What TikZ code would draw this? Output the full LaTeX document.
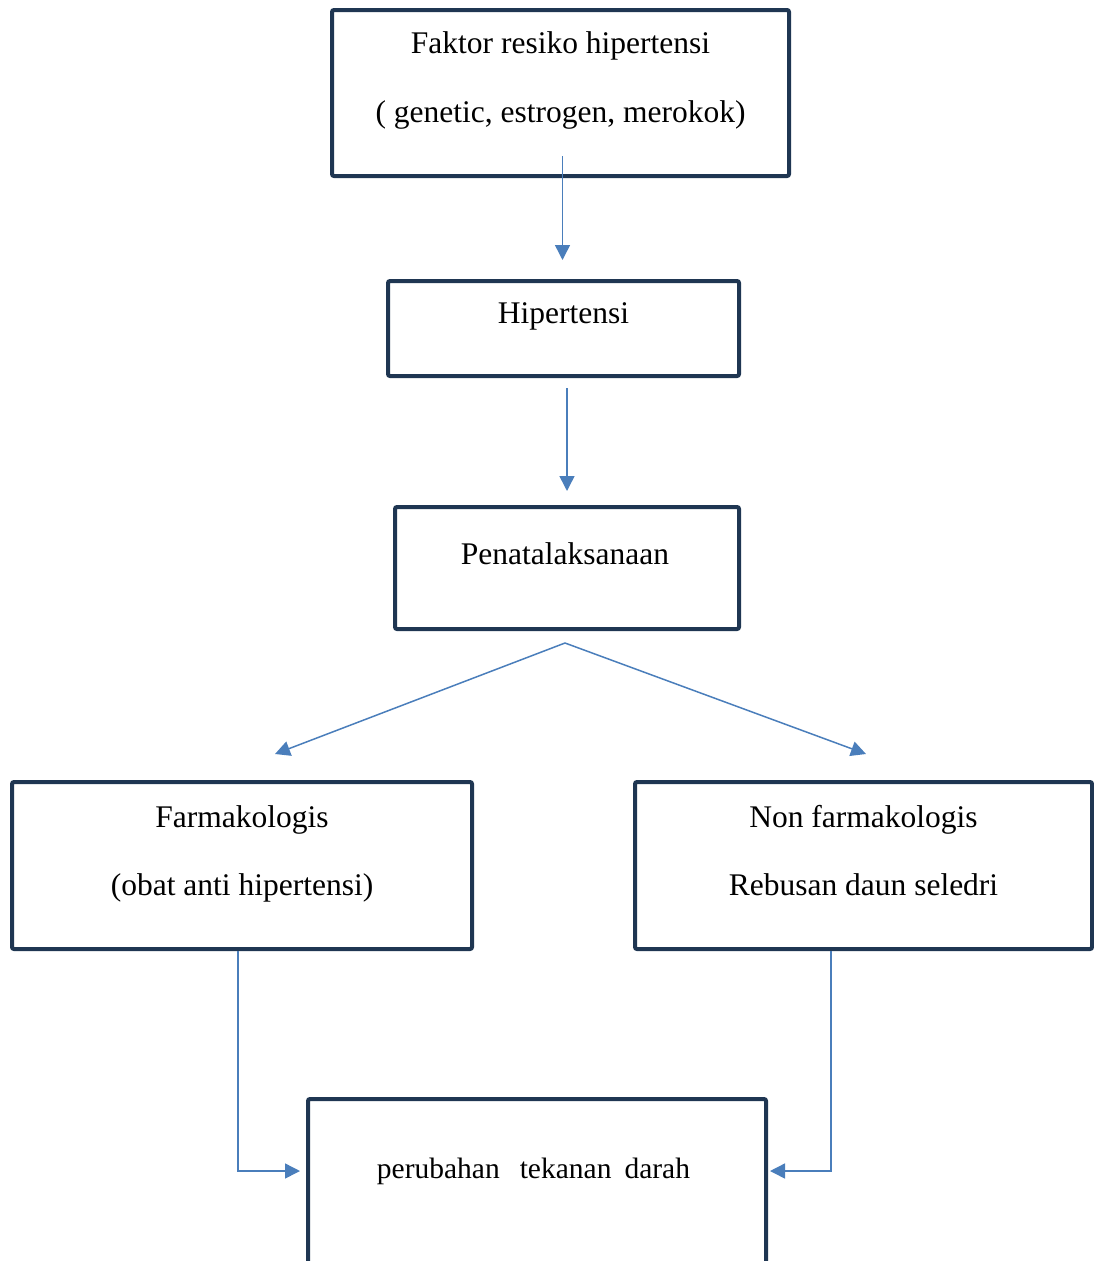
\documentclass[tikz,border=0pt]{standalone}
\usepackage{fontspec}
\setmainfont{Liberation Serif}
\usetikzlibrary{arrows.meta}
\definecolor{garisbox}{HTML}{1F3652}
\definecolor{biru}{HTML}{4A7EBB}

\begin{document}
\begin{tikzpicture}[x=1pt, y=-1pt,
    kotak/.style={draw=garisbox, line width=4pt, rounded corners=2pt, inner sep=0pt},
    teks/.style={anchor=base, inner sep=0pt, font=\fontsize{31.5}{38}\selectfont},
    panah/.style={draw=biru, line width=1.5pt, -{Triangle[width=15pt,length=15pt]}}]
        \useasboundingbox (0,0) rectangle (1094,1261);
        \clip (0,0) rectangle (1094,1261);

        \node[kotak, minimum width=457pt, minimum height=166pt] (faktor) at (560.5,93) {};
        \node[kotak, minimum width=351pt, minimum height=95pt] (hiper) at (563.5,328.5) {};
        \node[kotak, minimum width=344pt, minimum height=122pt] (tata) at (567,568) {};
        \node[kotak, minimum width=460pt, minimum height=167pt] (farma) at (242,865.5) {};
        \node[kotak, minimum width=457pt, minimum height=167pt] (nonfarma) at (863.5,865.5) {};
        \node[kotak, minimum width=458pt, minimum height=182pt] (ubah) at (537,1190) {};

        \node[teks] (faktor1) at ([yshift=-45pt]faktor.north) {Faktor resiko hipertensi};
        \node[teks] (faktor2) at ([yshift=-114pt]faktor.north) {( genetic, estrogen, merokok)};
        \node[teks] (hiper1) at ([yshift=-44pt]hiper.north) {Hipertensi};
        \node[teks] (tata1) at ([xshift=-2pt,yshift=-59pt]tata.north) {Penatalaksanaan};
        \node[teks] (farma1) at ([yshift=-47pt]farma.north) {Farmakologis};
        \node[teks] (farma2) at ([yshift=-115pt]farma.north) {(obat anti hipertensi)};
        \node[teks] (nonfarma1) at ([yshift=-47pt]nonfarma.north) {Non farmakologis};
        \node[teks] (nonfarma2) at ([yshift=-115pt]nonfarma.north) {Rebusan daun seledri};
        \node[teks, font=\fontsize{29.5}{36}\selectfont] (ubah1) at ([xshift=-3.5pt,yshift=-81pt]ubah.north)
            {perubahan\hspace{20pt}tekanan\hspace{13pt}darah};

        \coordinate (cabang) at ([xshift=-2pt,yshift=-12pt]tata.south);

        \draw[panah] ([xshift=2pt,yshift=22pt]faktor.south) -- ([xshift=-1pt,yshift=19pt]hiper.north);
        \draw[panah] ([xshift=3.5pt,yshift=-10pt]hiper.south) -- ([yshift=14pt]tata.north);
        \draw[panah] (cabang) -- ([xshift=33pt,yshift=26pt]farma.north);
        \draw[panah] (cabang) -- ([xshift=2.5pt,yshift=26pt]nonfarma.north);
        \draw[panah] ([xshift=-4pt]farma.south) |- ([xshift=-6pt,yshift=19pt]ubah.west);
        \draw[panah] ([xshift=-32.5pt]nonfarma.south) |- ([xshift=2pt,yshift=19pt]ubah.east);
    \end{tikzpicture}
\end{document}
